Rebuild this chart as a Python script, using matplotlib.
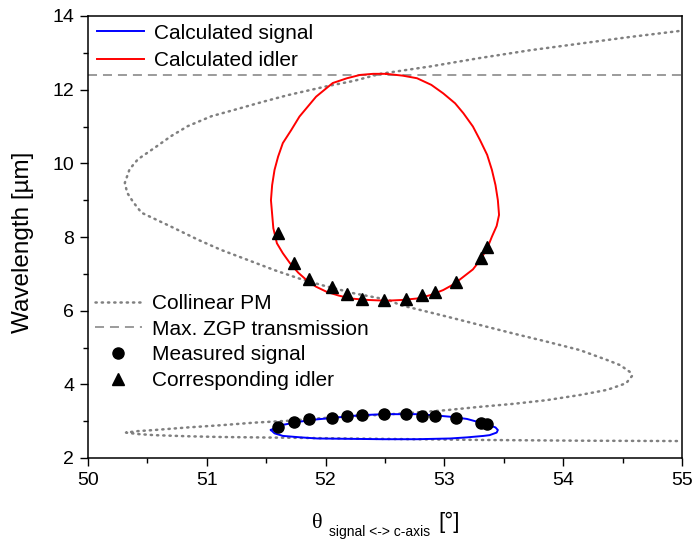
import matplotlib
matplotlib.use("Agg")
import matplotlib.pyplot as plt
from matplotlib.ticker import MultipleLocator

plt.rcParams['font.family'] = ['Liberation Sans', 'DejaVu Sans']

# collinear phase matching curve
pm_x = [54.97, 54.56, 54.14, 53.72, 53.30, 52.88, 52.46, 52.24, 52.02, 51.68, 51.46, 51.23, 51.04,
        50.84, 50.70, 50.56, 50.42, 50.35, 50.31, 50.33, 50.38, 50.45, 50.70, 50.93, 51.12, 51.35,
        51.57, 51.77, 51.96, 52.24, 52.53, 52.63, 52.82, 53.02, 53.30, 53.58, 53.86, 54.14, 54.37,
        54.48, 54.56, 54.58, 54.53, 54.37, 54.14, 53.86, 53.58, 53.30, 53.02, 52.74, 52.46, 52.24,
        51.96, 51.68, 51.40, 51.12, 50.84, 50.56, 50.42, 50.32, 50.42, 50.56, 50.84, 51.12, 51.68,
        52.46, 53.30, 54.14, 54.98]
pm_y = [13.59, 13.43, 13.25, 13.07, 12.86, 12.63, 12.43, 12.24, 12.10, 11.85, 11.66, 11.45, 11.28,
        11.01, 10.74, 10.42, 10.11, 9.84, 9.47, 9.20, 8.95, 8.66, 8.28, 7.92, 7.65, 7.37,
        7.10, 6.88, 6.70, 6.47, 6.29, 6.15, 6.00, 5.84, 5.61, 5.38, 5.16, 4.93, 4.66,
        4.52, 4.34, 4.23, 4.03, 3.85, 3.71, 3.57, 3.47, 3.39, 3.30, 3.23, 3.17, 3.14,
        3.08, 3.01, 2.96, 2.89, 2.83, 2.76, 2.73, 2.69, 2.65, 2.62, 2.59, 2.57, 2.55,
        2.52, 2.49, 2.47, 2.46]

zgp_max = 12.4

# calculated idler loop
idl_x = [52.51, 52.65, 52.77, 52.89, 52.99, 53.09, 53.16, 53.24, 53.30, 53.36, 53.40, 53.43, 53.45,
         53.46, 53.44, 53.40, 53.36, 53.30, 53.24, 53.16, 53.08, 52.99, 52.88, 52.77, 52.64, 52.51,
         52.36, 52.21, 52.11, 52.01, 51.92, 51.84, 51.77, 51.70, 51.64, 51.59, 51.56, 51.55, 51.54,
         51.55, 51.57, 51.60, 51.64, 51.71, 51.78, 51.85, 51.92, 52.06, 52.18, 52.29, 52.40, 52.51]
idl_y = [12.43, 12.38, 12.31, 12.13, 11.90, 11.63, 11.36, 11.00, 10.63, 10.23, 9.82, 9.41, 9.00,
         8.60, 8.30, 8.01, 7.69, 7.37, 7.12, 6.92, 6.72, 6.56, 6.42, 6.33, 6.29, 6.27,
         6.29, 6.33, 6.41, 6.51, 6.65, 6.83, 7.03, 7.29, 7.56, 7.83, 8.24, 8.62, 9.00,
         9.41, 9.82, 10.18, 10.55, 10.90, 11.27, 11.54, 11.81, 12.18, 12.31, 12.40, 12.43, 12.43]

# calculated signal loop
sig_x = [51.54, 51.59, 51.64, 51.79, 51.93, 52.07, 52.21, 52.35, 52.49, 52.63, 52.77, 52.91, 53.05,
         53.19, 53.27, 53.36, 53.43, 53.45, 53.44, 53.38, 53.33, 53.19, 53.05, 52.77, 52.49, 52.21,
         51.93, 51.79, 51.64, 51.57, 51.54]
sig_y = [2.76, 2.85, 2.90, 2.99, 3.05, 3.09, 3.14, 3.17, 3.19, 3.19, 3.19, 3.16, 3.12,
         3.06, 2.99, 2.91, 2.83, 2.76, 2.69, 2.62, 2.60, 2.56, 2.53, 2.51, 2.51, 2.52,
         2.53, 2.56, 2.60, 2.67, 2.76]

# measurements
meas_x = [51.60, 51.73, 51.86, 52.05, 52.18, 52.31, 52.49, 52.68, 52.81, 52.92, 53.10, 53.31, 53.36]
meas_sig = [2.83, 2.97, 3.05, 3.09, 3.14, 3.17, 3.19, 3.19, 3.15, 3.14, 3.08, 2.94, 2.91]
meas_idl = [8.10, 7.30, 6.85, 6.65, 6.45, 6.31, 6.29, 6.31, 6.42, 6.51, 6.79, 7.44, 7.74]

fig = plt.figure(figsize=(6.94, 5.39), dpi=100)
ax = fig.add_axes([88/694, 1-458/539, (682-88)/694, (458-16)/539])

l_pm, = ax.plot(pm_x, pm_y, color='#808080', lw=1.8, linestyle=(0, (0.5, 2.0)),
                dash_capstyle='round', label='Collinear PM')
l_zgp = ax.axhline(zgp_max, color='#808080', lw=1.1, dashes=(5.9, 3.9), label='Max. ZGP transmission')
l_sig, = ax.plot(sig_x, sig_y, color='#0000ff', lw=1.4, label='Calculated signal')
l_idl, = ax.plot(idl_x, idl_y, color='#ff0000', lw=1.4, label='Calculated idler')
m_sig, = ax.plot(meas_x, meas_sig, 'o', color='black', ms=8, ls='none', label='Measured signal')
m_idl, = ax.plot(meas_x, meas_idl, '^', color='black', ms=9, ls='none', label='Corresponding idler')

ax.set_xlim(50, 55)
ax.set_ylim(2, 14)
ax.xaxis.set_major_locator(MultipleLocator(1))
ax.xaxis.set_minor_locator(MultipleLocator(0.5))
ax.yaxis.set_major_locator(MultipleLocator(2))
ax.yaxis.set_minor_locator(MultipleLocator(1))
ax.tick_params(which='major', direction='out', length=6, width=1, labelsize=14, pad=4)
ax.tick_params(which='minor', direction='out', length=3.5, width=1)
for s in ax.spines.values():
    s.set_linewidth(1.1)

fig.text(23/694, 1-242/539, 'Wavelength [µm]', fontsize=17.5, rotation=90,
         ha='center', va='center')

leg_kw = dict(frameon=False, fontsize=15, handlelength=2.25, handletextpad=0.5,
              borderpad=0, borderaxespad=0, loc='upper left')
leg1 = ax.legend(handles=[l_sig, l_idl], bbox_to_anchor=(9/594, 0.983), labelspacing=0.4, **leg_kw)
ax.add_artist(leg1)
ax.legend(handles=[l_pm, l_zgp, m_sig, m_idl], bbox_to_anchor=(7/594, 0.371),
          labelspacing=0.32, **leg_kw)

# x label built from pieces: theta, subscript, unit
fig.text(312/694, 1-528/539, 'θ', fontsize=16, family=['Liberation Serif', 'DejaVu Serif'],
         ha='left', va='baseline')
fig.text(329/694, 1-536/539, 'signal <-> c-axis', fontsize=10, ha='left', va='baseline')
fig.text(438/694, 1-528/539, '[°]', fontsize=16, ha='left', va='baseline')

fig.savefig('out.png', dpi=100)
